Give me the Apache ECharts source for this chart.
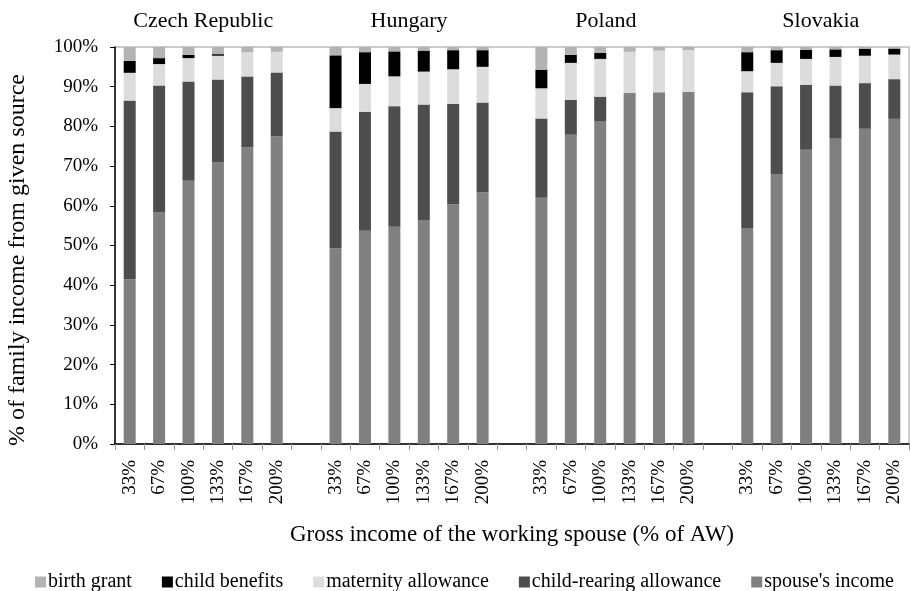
<!DOCTYPE html>
<html style="height: 100%">
<head>
  <meta charset="utf-8" />
  <title>Family income by source</title>
  <script src="https://cdn.jsdelivr.net/npm/echarts@6/dist/echarts.min.js"></script>
</head>
<body style="height: 100%; margin: 0; background: #fff">
  <div id="chart" style="width: 911px; height: 591px"></div>
  <script>
    const countries = ['Czech Republic', 'Hungary', 'Poland', 'Slovakia'];
    const incomeLevels = ['33%', '67%', '100%', '133%', '167%', '200%'];

    // values per bar, in country order (6 income levels each), percent of family income
    const spouseIncome = [
      41.5, 58.3, 66.3, 70.9, 74.7, 77.5,
      49.3, 53.7, 54.7, 56.4, 60.4, 63.4,
      62.0, 77.9, 81.2, 88.4, 88.6, 88.7,
      54.4, 68.0, 74.1, 76.9, 79.4, 81.9
    ];
    const childRearing = [
      45.0, 32.0, 25.0, 20.9, 17.9, 16.1,
      29.4, 30.0, 30.4, 29.1, 25.3, 22.6,
      20.0, 8.8, 6.3, 0, 0, 0,
      34.2, 22.1, 16.4, 13.4, 11.5, 10.0
    ];
    const maternity = [
      7.0, 5.4, 5.9, 6.0, 6.1, 5.2,
      5.9, 7.0, 7.5, 8.3, 8.7, 9.0,
      7.6, 9.3, 9.5, 10.4, 10.5, 10.5,
      5.3, 5.9, 6.5, 7.2, 6.9, 6.2
    ];
    const childBenefits = [
      3.0, 1.5, 0.8, 0.4, 0, 0,
      13.3, 8.0, 6.3, 5.3, 4.8, 4.2,
      4.7, 2.0, 1.5, 0, 0, 0,
      4.8, 3.2, 2.3, 1.9, 1.7, 1.5
    ];
    const birthGrant = [
      3.5, 2.8, 2.0, 1.8, 1.3, 1.2,
      2.1, 1.3, 1.1, 0.9, 0.8, 0.8,
      5.7, 2.0, 1.5, 1.2, 0.9, 0.8,
      1.3, 0.8, 0.7, 0.6, 0.5, 0.4
    ];

    // one empty slot between countries
    const categories = [];
    countries.forEach((c, i) => {
      if (i > 0) categories.push('');
      incomeLevels.forEach(l => categories.push(l));
    });
    function withGaps(values) {
      const out = [];
      countries.forEach((c, i) => {
        if (i > 0) out.push('-');
        for (let j = 0; j < incomeLevels.length; j++) out.push(values[i * incomeLevels.length + j]);
      });
      return out;
    }

    const font = '"Liberation Serif", "Times New Roman", serif';
    const gridLeft = 115, gridRight = 2, slot = (911 - gridLeft - gridRight) / categories.length;

    function bar(name, values, color) {
      return {
        name: name,
        type: 'bar',
        stack: 'total',
        barWidth: 12,
        data: withGaps(values),
        itemStyle: { color: color },
        emphasis: { disabled: true }
      };
    }

    // country headings above each group, plus the vertical axis title
    const headings = countries.map((c, i) => ({
      type: 'text',
      x: gridLeft + slot * (i * 7 + 3) - (i === 2 ? 9 : 0),
      y: 21,
      style: { text: c, font: '22px ' + font, fill: '#000', align: 'center', verticalAlign: 'middle' }
    }));
    headings.push({
      type: 'text',
      x: 18,
      y: 260,
      rotation: Math.PI / 2,
      style: {
        text: '% of family income from given source', font: '24px ' + font,
        fill: '#000', align: 'center', verticalAlign: 'middle'
      }
    });

    const chart = echarts.init(document.getElementById('chart'));
    chart.setOption({
      animation: false,
      backgroundColor: '#fff',
      textStyle: { fontFamily: font, color: '#000' },
      grid: {
        left: gridLeft, right: gridRight, top: 47, bottom: 147,
        show: true, borderColor: '#999', borderWidth: 1
      },
      legend: {
        top: 567,
        left: 30,
        itemWidth: 11,
        itemHeight: 11,
        itemGap: 30,
        icon: 'rect',
        textStyle: { fontFamily: font, fontSize: 20, color: '#000', padding: [0, 0, 0, -3] },
        data: ['birth grant', 'child benefits', 'maternity allowance', 'child-rearing allowance', "spouse's income"]
      },
      xAxis: {
        type: 'category',
        data: categories,
        name: 'Gross income of the working spouse (% of AW)',
        nameLocation: 'middle',
        nameGap: 79,
        nameTextStyle: { fontFamily: font, fontSize: 23, color: '#000' },
        axisLine: { lineStyle: { color: '#000', width: 1.5 } },
        axisTick: { show: true, inside: false, length: 6, lineStyle: { color: '#999' } },
        axisLabel: { rotate: 90, interval: 0, fontFamily: font, fontSize: 19, color: '#000', margin: 16 }
      },
      yAxis: {
        type: 'value',
        min: 0,
        max: 100,
        interval: 10,
        splitLine: { show: false },
        axisLine: { show: true, lineStyle: { color: '#000', width: 1.5 } },
        axisTick: { show: true, length: 5, lineStyle: { color: '#000' } },
        axisLabel: { formatter: '{value}%', fontFamily: font, fontSize: 19, color: '#000', margin: 17 }
      },
      graphic: headings,
      series: [
        bar("spouse's income", spouseIncome, '#808080'),
        bar('child-rearing allowance', childRearing, '#4d4d4d'),
        bar('maternity allowance', maternity, '#dcdcdc'),
        bar('child benefits', childBenefits, '#000000'),
        bar('birth grant', birthGrant, '#b3b3b3')
      ]
    });
  </script>
</body>
</html>
